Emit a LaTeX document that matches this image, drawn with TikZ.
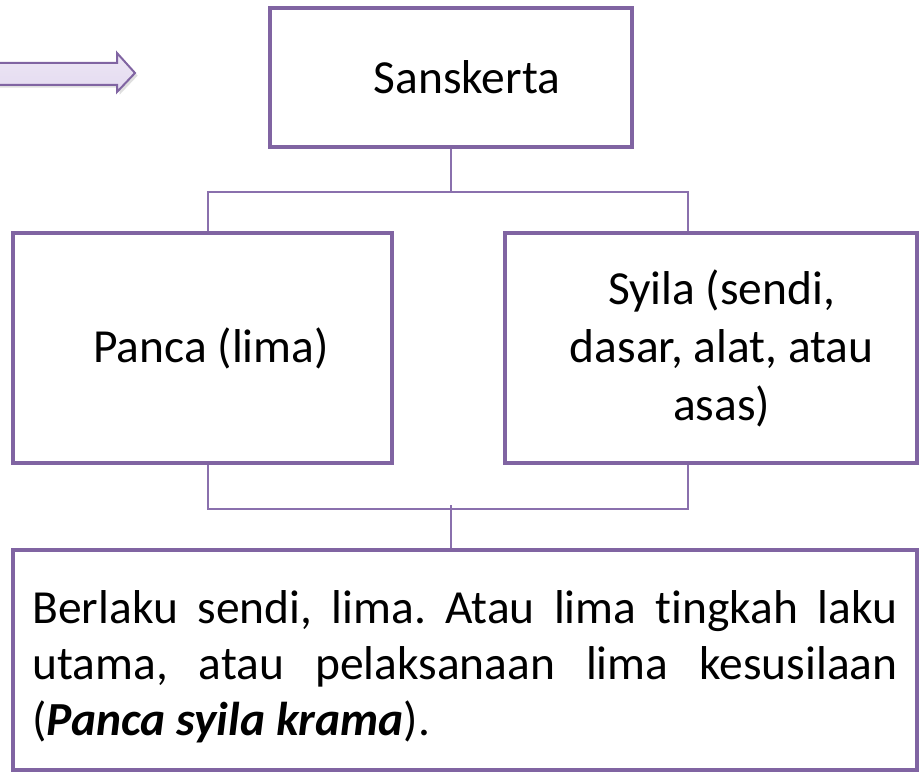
\documentclass[tikz,border=0pt]{standalone}
\usepackage{fontspec}
\setmainfont[Ligatures={NoCommon}]{Carlito}
\usepackage{xcolor}
\usepackage{tikz}
\usetikzlibrary{positioning,calc,shadows}

\definecolor{boxpurple}{HTML}{8064A2}
\definecolor{linkpurple}{HTML}{8A70AD}
\definecolor{arrowfill}{HTML}{E4DBF0}

\tikzset{
    termbox/.style={draw=boxpurple, line width=3pt, rectangle, fill=white,
        align=center, inner sep=0pt,
        font=\fontsize{35.6pt}{43.5pt}\selectfont},
    link/.style={draw=linkpurple, line width=1.5pt}
}

\begin{document}
\frenchspacing
\begin{tikzpicture}[x=0.75pt, y=-0.75pt]
    \useasboundingbox (0,0) rectangle (919,781);

    % arrow on the left
    \draw[boxpurple, line width=1.5pt, top color=arrowfill!70, bottom color=arrowfill,
          drop shadow={opacity=0.25, shadow xshift=2pt, shadow yshift=-2pt}]
        (-5,63) -- (117,63) -- (117,53) -- (135,73) -- (117,92) -- (117,85) -- (-5,85) -- cycle;

    \node[termbox, minimum width=271.5pt, minimum height=104.25pt] (sanskerta) at (451,77.5) {\hspace*{24pt}Sanskerta};
    \node[termbox, minimum width=284.25pt, minimum height=172.5pt] (panca) at (202.5,348) {\hspace*{13pt}Panca (lima)};
    \node[termbox, minimum width=309pt, minimum height=172.5pt] (syila) at (711,348) {\hspace*{16pt}Syila (sendi,\\\hspace*{16pt}dasar, alat, atau\\\hspace*{16pt}asas)};
    \node[termbox, minimum width=678pt, minimum height=165pt, text width=648.75pt, align=justify,
          text depth=80pt, font=\fontsize{35.6pt}{42pt}\selectfont] (berlaku) at (465,660)
        {Berlaku sendi, lima. Atau lima tingkah laku utama, atau pelaksanaan lima kesusilaan (\textbf{\textit{Panca syila krama}}).};

    % connectors
    \draw[link] (sanskerta.south) -- ++(0,43) -| ($(panca.north)+(5,0)$);
    \draw[link] (sanskerta.south) -- ++(0,43) -| ($(syila.north)+(-23,0)$);
    \draw[link] ($(panca.south)+(5,0)$) -- ++(0,44) -| ($(syila.south)+(-23,0)$);
    \draw[link] (berlaku.north -| sanskerta.south) -- ++(0,-43);
\end{tikzpicture}
\end{document}
